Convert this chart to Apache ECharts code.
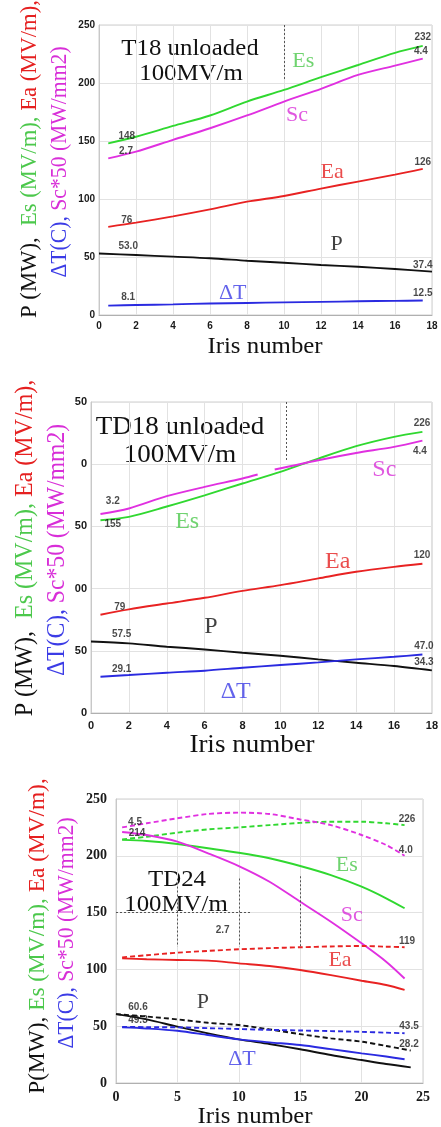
<!DOCTYPE html>
<html><head><meta charset="utf-8">
<script src="https://cdn.jsdelivr.net/npm/echarts@6/dist/echarts.min.js"></script>
<style>html,body{margin:0;padding:0;background:#fff}#c{width:441px;height:1127px}</style>
</head><body><div id="c"></div>
<script>
// ---------- Panel 1 : T18 unloaded ----------
var x1 = [0.5, 2, 4, 6, 8, 10, 12, 14, 16, 17.5];
var es1 = [148, 153.7, 163, 172, 184, 194, 205, 215.5, 226, 232];
var sc1 = [135, 140.8, 151, 161, 172, 184, 195, 207, 215, 221];
var ea1 = [76, 79.6, 85, 91, 97.7, 102.6, 109, 115, 121, 126];
var xP1 = [0, 2, 4, 6, 8, 10, 12, 14, 16, 18];
var p1 = [53.0, 51.7, 50.3, 48.9, 46.8, 45, 43.1, 41.6, 39.6, 37.4];
var dt1 = [8.1, 8.6, 9.2, 9.9, 10.4, 10.9, 11.3, 11.8, 12.2, 12.5];
var yTicks1 = ['0', '50', '100', '150', '200', '250'];

// ---------- Panel 2 : TD18 unloaded ----------
var x2 = [0.5, 2, 4, 6, 8, 10, 12, 14, 16, 17.5];
var es2 = [155, 157.7, 166, 175, 184.5, 193.8, 204.5, 214.5, 222, 226];
var xSc2 = [0.5, 2, 4, 6, 8, 8.8, 9.25, 9.7, 12, 14, 16, 17.5];
var sc2 = [160, 164.4, 174.3, 181.8, 188.5, 191.7, null, 195.7, 203.2, 209, 213.9, 219];
var ea2 = [79, 83.3, 88, 92.6, 98.2, 102.8, 108.2, 113.5, 117.5, 120];
var xP2 = [0, 2, 4, 6, 8, 10, 12, 14, 16, 18];
var p2 = [57.5, 56, 53.3, 51.1, 48.4, 46, 43.1, 40.4, 37.8, 34.3];
var dt2 = [29.1, 30.5, 32.4, 34, 36.4, 38.6, 40.7, 43.1, 45.2, 47.0];
var yTicks2 = ['0', '50', '00', '50', '0', '50'];

// ---------- Panel 3 : TD24 ----------
var x3 = [0.5, 2.5, 5, 7.5, 10, 12.5, 15, 17.5, 20, 22, 23.5];
var esS3 = [214, 213, 210.4, 206.6, 202.7, 197.8, 191, 183, 172.8, 162.6, 153.8];
var esD3 = [214.5, 216.8, 220.4, 223.3, 225, 227, 229, 230, 230, 228.6, 227];
var scS3 = [221, 218.3, 212.4, 202.2, 191, 177.2, 159.6, 142, 123, 106.8, 92];
var scD3 = [225, 228.6, 233, 236.8, 238, 236.8, 232, 227, 218.3, 209.5, 200];
var eaS3 = [109.7, 109, 108.3, 107.7, 105.3, 103, 99.5, 95, 90, 86.3, 81.9];
var eaD3 = [110.6, 112.5, 114.7, 116.3, 117.7, 118.7, 119.5, 120.2, 120.6, 120, 119.5];
var xP3 = [0, 2.5, 5, 7.5, 10, 12.5, 15, 17.5, 20, 22, 24];
var pS3 = [60.6, 56, 49.6, 43.7, 38.4, 34.3, 29.7, 24.6, 20.2, 16.7, 13.8];
var pD3 = [60.6, 58.5, 56, 53, 51, 47.2, 43, 39.3, 36.4, 32.6, 28.6];
var dtS3 = [49, 48, 46, 42.2, 38.4, 35.8, 33.4, 29.8, 26.1, 23.3, 20.9];
var dtD3 = [49.3, 49.2, 49, 48.3, 47.5, 46.8, 46.2, 45.7, 45, 44.3, 43.8];
var yTicks3 = ['0', '50', '100', '150', '200', '250'];

// value labels [x, y, text]
var vals1 = [[1.5,153.7,'148'],[1.46,140.8,'2.7'],[1.5,81.3,'76'],[1.58,58.9,'53.0'],[1.58,14.9,'8.1'],
             [17.5,239.4,'232'],[17.4,227,'4.4'],[17.5,131.3,'126'],[17.5,43.1,'37.4'],[17.5,18.7,'12.5']];
var vals2 = [[1.15,170.3,'3.2'],[1.15,151.8,'155'],[1.52,84.9,'79'],[1.62,63.2,'57.5'],[1.62,35.1,'29.1'],
             [17.48,232.7,'226'],[17.37,210.4,'4.4'],[17.48,126.9,'120'],[17.58,53.3,'47.0'],[17.58,40.4,'34.3']];
var vals3 = [[1.55,229.8,'4.5'],[1.71,220,'214'],[23.7,232.4,'226'],[23.6,205.1,'4.0'],[23.7,125,'119'],
             [1.79,66.9,'60.6'],[1.79,55.5,'49.3'],[23.86,50.2,'43.5'],[23.86,34.3,'28.2'],[8.69,134.7,'2.7']];
// curve names [x, y, text, colourKey]
var names1 = [[11.04,218.4,'Es','g'],[10.7,172.4,'Sc','m'],[12.6,123.5,'Ea','r'],[12.85,61.2,'P','k'],[7.23,19.2,'ΔT','b']];
var names2 = [[15.49,195.2,'Sc','m'],[5.08,153.4,'Es','g'],[13.03,121.3,'Ea','r'],[6.33,69.1,'P','k'],[7.64,16.9,'ΔT','b']];
var names3 = [[18.8,191.9,'Es','g'],[19.2,147.9,'Sc','m'],[18.24,108.3,'Ea','r'],[7.08,71.3,'P','k'],[10.26,21.1,'ΔT','b']];

var C = {g:'#30d830', m:'#e030e0', r:'#e82222', k:'#111111', b:'#2a2ae0'};
var CT = {g:'#4cc84c', m:'#d82ed8', r:'#e52020', k:'#111111', b:'#3c3ce6'};
var SERIF = '"Liberation Serif", "Times New Roman", serif';
var SANS = '"Liberation Sans", Arial, sans-serif';

function line(gi, xs, ys, key, dashed, extra) {
  var s = {
    type: 'line', xAxisIndex: gi, yAxisIndex: gi, silent: true, animation: false,
    data: xs.map(function (x, i) { return [x, ys[i] == null ? '-' : ys[i]]; }),
    showSymbol: false, symbol: 'none', smooth: 0.3, connectNulls: false,
    lineStyle: { color: C[key], width: 1.9, type: dashed ? [5, 3] : 'solid' }, z: 3
  };
  if (extra) for (var k in extra) s[k] = extra[k];
  return s;
}
function texts(gi, arr, font, size, weight, colorFn) {
  return {
    type: 'scatter', xAxisIndex: gi, yAxisIndex: gi, silent: true, animation: false,
    symbolSize: 1, itemStyle: { color: 'rgba(0,0,0,0)' }, z: 5,
    data: arr.map(function (a) {
      return { value: [a[0], a[1]], label: { formatter: a[2], color: colorFn(a) } };
    }),
    label: { show: true, position: 'inside', fontFamily: font, fontSize: size, fontWeight: weight }
  };
}
function guides(segs) {
  return {
    silent: true, symbol: ['none', 'none'], label: { show: false },
    lineStyle: { type: [2, 2], color: '#555', width: 1 },
    data: segs.map(function (s) { return [{ coord: [s[0], s[1]] }, { coord: [s[2], s[3]] }]; })
  };
}

var grids = [
  { left: 99, top: 25, width: 333, height: 290 },
  { left: 91, top: 402, width: 344, height: 311 },
  { left: 116, top: 799, width: 307, height: 284 }
];
grids.forEach(function (g) { g.show = true; g.borderColor = '#cfcfcf'; g.borderWidth = 1; g.backgroundColor = '#fff'; });

function xAx(gi, max, interval, font, size, margin) {
  return {
    type: 'value', gridIndex: gi, min: 0, max: max, interval: interval,
    axisLine: { show: true, lineStyle: { color: '#b0b0b0' } }, axisTick: { show: false },
    splitLine: { show: true, lineStyle: { color: '#e2e2e2' } },
    axisLabel: { fontFamily: font, fontSize: size, fontWeight: 'bold', color: '#1a1a1a', margin: margin }
  };
}
function yAx(gi, ticks, font, size, margin) {
  return {
    type: 'value', gridIndex: gi, min: 0, max: 250, interval: 50,
    axisLine: { show: true, lineStyle: { color: '#c8c8c8' } }, axisTick: { show: false },
    splitLine: { show: true, lineStyle: { color: '#e2e2e2' } },
    axisLabel: { fontFamily: font, fontSize: size, fontWeight: 'bold', color: '#1a1a1a', margin: margin,
      formatter: function (v) { return ticks[Math.round(v / 50)]; } }
  };
}

function ytitle(x, y, size, l1, l2, sx1, sx2) {
  var rich = {};
  ['k', 'g', 'r', 'b', 'm'].forEach(function (k) { rich[k] = { fill: CT[k], fontFamily: SERIF, fontSize: size }; });
  return [
    { type: 'text', x: x[0], y: y[0], rotation: Math.PI / 2, scaleX: sx1, scaleY: 1.08,
      style: { text: l1, rich: rich, fontFamily: SERIF, fontSize: size, align: 'center', verticalAlign: 'middle' } },
    { type: 'text', x: x[1], y: y[1], rotation: Math.PI / 2, scaleX: sx2, scaleY: 1.08,
      style: { text: l2, rich: rich, fontFamily: SERIF, fontSize: size, align: 'center', verticalAlign: 'middle' } }
  ];
}
function htext(x, y, t, size, sx) {
  return { type: 'text', x: x, y: y, scaleX: sx || 1.08,
    style: { text: t, fontFamily: SERIF, fontSize: size, fill: '#111', align: 'center', verticalAlign: 'middle' } };
}

var L1a = '{k|P (MW),}  {g|Es (MV/m),} {r|Ea (MV/m),}';
var L1b = '{b|ΔT(C),} {m|Sc*50 (MW/mm2)}';
var L3a = '{k|P(MW),} {g|Es (MV/m),} {r|Ea (MV/m),}';

var graphic = []
  .concat(ytitle([30, 60], [159, 162], 22, L1a, L1b, 1.03, 0.985))
  .concat(ytitle([25, 57], [548, 550], 24, L1a, L1b, 1.0, 0.985))
  .concat(ytitle([38, 67], [936, 933], 22, L3a, L1b, 1.06, 0.985))
  .concat([
    htext(190, 49, 'T18 unloaded', 23), htext(191, 74, '100MV/m', 23),
    htext(265, 347, 'Iris number', 23),
    htext(180, 427, 'TD18 unloaded', 25), htext(180, 455, '100MV/m', 25),
    htext(252, 745, 'Iris number', 25),
    htext(177, 880, 'TD24', 23), htext(176, 905, '100MV/m', 23),
    htext(255, 1117, 'Iris number', 23)
  ]);

var nameColor = function (a) { return CT[a[3]]; };
var valColor = function () { return '#1a1a1a'; };

var series = [
  line(0, x1, es1, 'g', false, { markLine: guides([[10, 250, 10, 202]]) }),
  line(0, x1, sc1, 'm'), line(0, x1, ea1, 'r'), line(0, xP1, p1, 'k'), line(0, x1, dt1, 'b'),
  texts(0, vals1, SANS, 10, 'bold', valColor),
  texts(0, names1, SERIF, 22, 'normal', nameColor),

  line(1, x2, es2, 'g', false, { markLine: guides([[10.3, 250, 10.3, 202]]) }),
  line(1, xSc2, sc2, 'm'), line(1, x2, ea2, 'r'), line(1, xP2, p2, 'k'), line(1, x2, dt2, 'b'),
  texts(1, vals2, SANS, 10, 'bold', valColor),
  texts(1, names2, SERIF, 24, 'normal', nameColor),

  line(2, x3, esS3, 'g', false, { markLine: guides([[0, 150, 11, 150], [5, 180, 5, 120], [10, 180, 10, 120], [15, 182, 15, 120]]) }),
  line(2, x3, esD3, 'g', true), line(2, x3, scS3, 'm'), line(2, x3, scD3, 'm', true),
  line(2, x3, eaS3, 'r'), line(2, x3, eaD3, 'r', true),
  line(2, xP3, pS3, 'k'), line(2, xP3, pD3, 'k', true),
  line(2, x3, dtS3, 'b'), line(2, x3, dtD3, 'b', true),
  texts(2, vals3, SANS, 10, 'bold', valColor),
  texts(2, names3, SERIF, 22, 'normal', nameColor)
];

var chart = echarts.init(document.getElementById('c'), null, { renderer: 'canvas', width: 441, height: 1127 });
chart.setOption({
  animation: false,
  backgroundColor: '#fff',
  grid: grids,
  xAxis: [xAx(0, 18, 2, SANS, 10, 6), xAx(1, 18, 2, SANS, 11, 7), xAx(2, 25, 5, SERIF, 14, 7)],
  yAxis: [yAx(0, yTicks1, SANS, 10, 4), yAx(1, yTicks2, SANS, 11, 4), yAx(2, yTicks3, SERIF, 14, 9)],
  series: series,
  graphic: graphic
});
</script></body></html>
